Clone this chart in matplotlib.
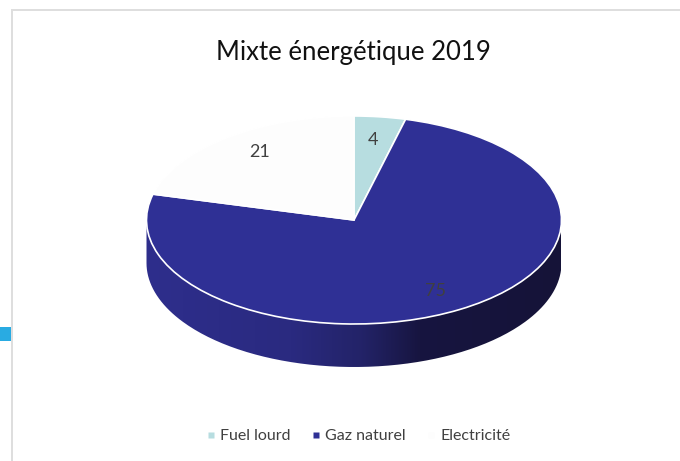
import numpy as np
import matplotlib.pyplot as plt
from matplotlib.colors import LinearSegmentedColormap
from matplotlib.lines import Line2D
from matplotlib.patches import PathPatch, Rectangle
from matplotlib.path import Path

plt.rcParams['font.family'] = ['Lato', 'DejaVu Sans']

title = "Mixte énergétique 2019"
sources = ["Fuel lourd", "Gaz naturel", "Electricité"]
shares = [4, 75, 21]
slice_colors = ["#b7dde0", "#2f3095", "#fdfdfd"]

W, H = 680, 461
CX, CY = 354, 220      # centre of the top face, px
RX, RY = 207.5, 104    # ellipse radii, px
DEPTH = 43 / RY        # thickness of the disc in y units


def px(x, y):
    return (x - CX) / RX, (CY - y) / RY


fig = plt.figure(figsize=(W / 100, H / 100), dpi=100, facecolor="white")
ax = fig.add_axes([0, 0, 1, 1])

wedges, _ = ax.pie(shares, colors=slice_colors, startangle=90, counterclock=False,
                   wedgeprops={"edgecolor": "white", "linewidth": 1.2, "zorder": 3})

# squash the pie into an ellipse
xlim = (px(0, 0)[0], px(W, 0)[0])
ylim = (px(0, H)[1], px(0, 0)[1])
ax.set_aspect("auto")

# front wall of the disc with its left to right shading
t = np.linspace(np.pi, 2 * np.pi, 200)
top = np.column_stack([np.cos(t), np.sin(t)])
wall = np.vstack([top, (top - [0, DEPTH])[::-1], top[:1]])
wall_patch = PathPatch(Path(wall), facecolor="none", edgecolor="none")
ax.add_patch(wall_patch)
shade = LinearSegmentedColormap.from_list("wall", [
    (0.0, "#2e2e8c"), (0.35, "#2a2a80"), (0.52, "#232368"),
    (0.66, "#171540"), (1.0, "#151338")])
img = ax.imshow(np.linspace(0, 1, 256)[None, :], cmap=shade, aspect="auto",
                extent=(-1, 1, -1 - DEPTH, 0), zorder=2)
img.set_clip_path(wall_patch)

ax.set_xlim(*xlim)
ax.set_ylim(*ylim)
ax.axis("off")

# value labels, same order as shares
label_spots = [(373, 140), (436, 291), (260, 152)]
for value, (x, y) in zip(shares, label_spots):
    ax.text(*px(x, y), str(value), ha="center", va="center", fontsize=13,
            color="#404040", zorder=5)

ax.text(*px(353, 52), title, ha="center", va="center", fontsize=18.5, color="#111111")

# legend, the white slice leaves an invisible swatch
handles = [Line2D([], [], linestyle="none", marker="s", markersize=4,
                  markerfacecolor=c, markeredgecolor="none") for c in slice_colors]
ax.legend(handles, sources, ncol=3, frameon=False, fontsize=11.5, labelcolor="#404040",
          loc="center", bbox_to_anchor=(358 / W, 1 - 436 / H), columnspacing=1.25,
          handletextpad=0.2, handlelength=0.7, borderpad=0)

# chart frame and the blue tab on its left edge
fig.add_artist(Rectangle((11 / W, 0), 2 / W, 1 - 9 / H, transform=fig.transFigure,
                         facecolor="#dedede", edgecolor="none"))
fig.add_artist(Rectangle((11 / W, 1 - 11 / H), 1 - 11 / W, 2 / H, transform=fig.transFigure,
                         facecolor="#dedede", edgecolor="none"))
fig.add_artist(Rectangle((0, 1 - 341 / H), 11 / W, 14 / H, transform=fig.transFigure,
                         facecolor="#29abe2", edgecolor="none"))

fig.savefig("out.png", dpi=100)
